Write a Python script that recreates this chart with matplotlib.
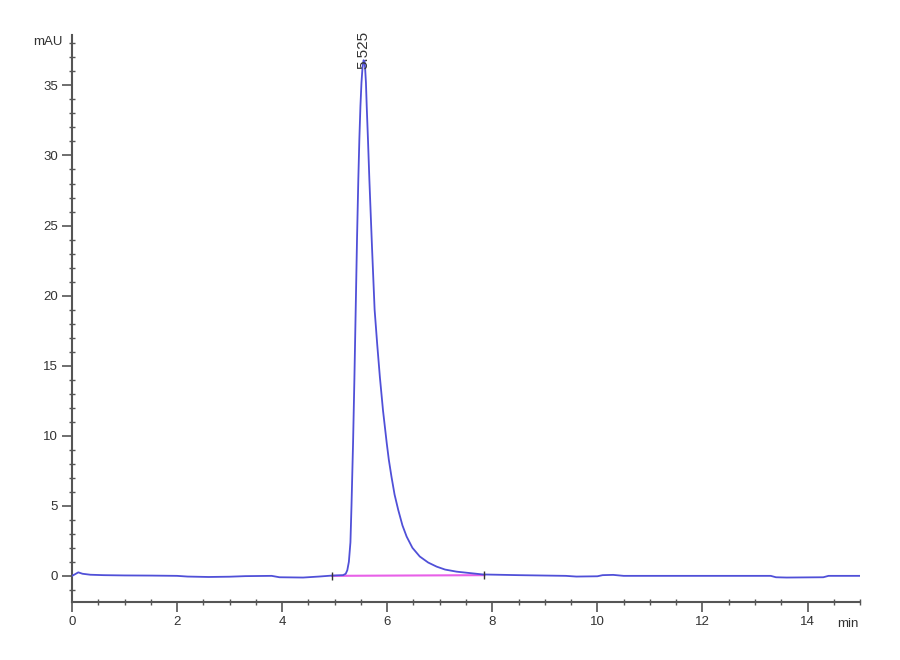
import matplotlib
matplotlib.use('Agg')
import matplotlib.pyplot as plt
from matplotlib.ticker import MultipleLocator

plt.rcParams['font.family'] = ['Liberation Sans Narrow', 'Liberation Sans', 'DejaVu Sans']

# chromatogram trace (min, mAU)
time = [0.0, 0.05, 0.12, 0.2, 0.35, 0.6, 1.0, 1.5, 2.0, 2.2, 2.6, 3.0, 3.3, 3.8,
        3.95, 4.4, 4.7, 4.95, 5.16, 5.21, 5.24, 5.27, 5.30, 5.32, 5.35, 5.375,
        5.40, 5.425, 5.45, 5.47, 5.49, 5.51, 5.53, 5.55, 5.57, 5.58, 5.595,
        5.61, 5.635, 5.66, 5.71, 5.76, 5.81, 5.86, 5.92, 5.99, 6.03, 6.08, 6.14,
        6.21, 6.29, 6.37, 6.48, 6.62, 6.78, 6.94, 7.1, 7.32, 7.82, 8.5, 9.4, 9.6,
        10.0, 10.1, 10.3, 10.5, 11.5, 12.5, 13.3, 13.4, 13.6, 14.3, 14.4, 15.0]
signal = [0.0, 0.1, 0.25, 0.15, 0.08, 0.05, 0.03, 0.02, 0.0, -0.05, -0.08, -0.06,
          -0.02, 0.0, -0.1, -0.12, -0.05, 0.02, 0.05, 0.15, 0.4, 1.0, 2.4, 5.0,
          9.5, 14.0, 19.0, 24.0, 28.3, 31.2, 33.5, 35.2, 36.3, 36.8, 36.7, 36.2,
          35.2, 33.5, 31.0, 28.3, 23.5, 19.0, 16.5, 14.2, 11.8, 9.5, 8.3, 7.1,
          5.8, 4.7, 3.6, 2.8, 2.0, 1.38, 0.95, 0.66, 0.45, 0.3, 0.1, 0.05, 0.0,
          -0.05, -0.03, 0.05, 0.07, 0.0, 0.0, 0.0, 0.0, -0.1, -0.12, -0.1, 0.0,
          0.0]

# integration baseline
base_t = [4.95, 7.85]
base_y = [0.0, 0.05]

peak_rt = 5.55
peak_h = 36.8
peak_label = '5.525'

fig = plt.figure(figsize=(9, 6.6), dpi=100)
ax = fig.add_axes([0.08, 0.088, 0.8756, 0.859])

ax.plot(base_t, base_y, color='#e860e8', linewidth=1.5, zorder=2)
ax.plot(time, signal, color='#5050d8', linewidth=1.3, zorder=3)
ax.plot(base_t, base_y, linestyle='none', marker='|', markersize=6,
        color='#333333', markeredgewidth=1, zorder=4)

ax.text(peak_rt, peak_h - 0.6, peak_label, rotation=90, ha='center', va='bottom',
        fontsize=11, color='#333333')

ax.set_xlim(0, 15)
ax.set_ylim(-1.86, 38.6)

ax.spines['top'].set_visible(False)
ax.spines['right'].set_visible(False)
for s in ['left', 'bottom']:
    ax.spines[s].set_color('#555555')
    ax.spines[s].set_linewidth(1.5)

ax.set_xticks([0, 2, 4, 6, 8, 10, 12, 14])
ax.set_yticks([0, 5, 10, 15, 20, 25, 30, 35])
ax.xaxis.set_minor_locator(MultipleLocator(0.5))
ax.yaxis.set_minor_locator(MultipleLocator(1))
ax.tick_params(which='major', direction='out', length=7, width=1.2,
               color='#555555', labelsize=9.5, labelcolor='#333333', pad=3)
ax.tick_params(which='minor', direction='inout', length=4, width=1.0,
               color='#555555')

ax.text(-0.012, 38.1, 'mAU', transform=ax.get_yaxis_transform(), ha='right',
        va='center', fontsize=9.5, color='#333333')
ax.text(0.998, -0.028, 'min', transform=ax.transAxes, ha='right', va='top',
        fontsize=9.5, color='#333333')

plt.savefig('out.png', dpi=100)
plt.close()
